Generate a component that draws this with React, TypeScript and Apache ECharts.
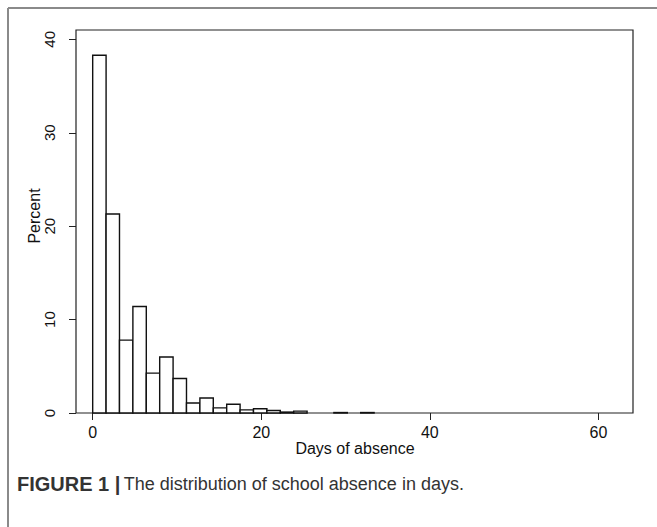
import React, { useEffect, useRef } from "react";
import * as echarts from "echarts";

// Histogram of days of absence: 39 bins from 0 to 62 days
const MAX_DAYS = 62;
const BIN_COUNT = 39;
const percent = [
  38.3, 21.3, 7.8, 11.4, 4.27, 6.0, 3.7, 1.07, 1.6, 0.55,
  0.93, 0.33, 0.46, 0.26, 0.1, 0.2, 0, 0, 0.05, 0,
  0.05, 0, 0, 0, 0, 0, 0, 0, 0, 0,
  0, 0, 0, 0, 0, 0, 0, 0, 0,
];
const xTicks = [0, 20, 40, 60];
const yTicks = [0, 10, 20, 30, 40];
const xTitle = "Days of absence";
const yTitle = "Percent";
const captionBold = "FIGURE 1 |";
const captionText = "The distribution of school absence in days.";

export default function App() {
  const ref = useRef<HTMLDivElement>(null);
  useEffect(() => {
    if (!ref.current) return;
    const chart = echarts.init(ref.current, undefined, { renderer: "svg" });
    const binWidth = MAX_DAYS / BIN_COUNT;
    const data = percent.map((p, i) => [i * binWidth, (i + 1) * binWidth, p]);
    const font = "'Liberation Sans', Arial, sans-serif";
    chart.setOption({
      animation: false,
      backgroundColor: "#fff",
      grid: {
        left: 76,
        top: 30,
        right: 24,
        bottom: 114,
        show: true,
        borderColor: "#222",
        borderWidth: 1.2,
        backgroundColor: "transparent",
      },
      xAxis: {
        type: "value",
        min: -1.98,
        max: 64.1,
        splitLine: { show: false },
        axisLine: { show: false, onZero: false },
        axisTick: {
          show: true,
          length: 7,
          customValues: xTicks,
          lineStyle: { color: "#222", width: 1 },
        },
        axisLabel: {
          customValues: xTicks,
          margin: 11,
          fontSize: 16,
          color: "#111",
          fontFamily: font,
        },
      },
      yAxis: {
        type: "value",
        min: 0,
        max: 41,
        splitLine: { show: false },
        axisLine: { show: false, onZero: false },
        axisTick: {
          show: true,
          length: 7,
          customValues: yTicks,
          lineStyle: { color: "#222", width: 1 },
        },
        axisLabel: {
          customValues: yTicks,
          rotate: 90,
          margin: 19,
          fontSize: 15,
          color: "#111",
          fontFamily: font,
        },
      },
      series: [
        {
          type: "custom",
          data,
          encode: { x: [0, 1], y: 2 },
          renderItem: (params: any, api: any) => {
            const x0 = api.value(0);
            const x1 = api.value(1);
            const h = api.value(2);
            if (!(h > 0)) return null;
            const p0 = api.coord([x0, 0]);
            const p1 = api.coord([x1, h]);
            return {
              type: "rect",
              shape: {
                x: p0[0],
                y: p1[1],
                width: p1[0] - p0[0],
                height: p0[1] - p1[1],
              },
              style: { fill: "#fff", stroke: "#111", lineWidth: 1.4 },
            };
          },
        },
      ],
      graphic: [
        {
          type: "line",
          shape: { x1: 8, y1: 8, x2: 657, y2: 8 },
          style: { stroke: "#8a8a8a", lineWidth: 2 },
        },
        {
          type: "line",
          shape: { x1: 8, y1: 8, x2: 8, y2: 527 },
          style: { stroke: "#8a8a8a", lineWidth: 2 },
        },
        {
          type: "text",
          x: 34,
          y: 216,
          rotation: Math.PI / 2,
          style: {
            text: yTitle,
            fontSize: 16,
            fontFamily: font,
            fill: "#111",
            align: "center",
            verticalAlign: "middle",
          },
        },
        {
          type: "text",
          x: 355,
          y: 448,
          style: {
            text: xTitle,
            fontSize: 16,
            fontFamily: font,
            fill: "#111",
            align: "center",
            verticalAlign: "middle",
          },
        },
        {
          type: "text",
          x: 17,
          y: 484,
          style: {
            rich: {
              b: { fontWeight: "bold", fontSize: 20, fontFamily: font, fill: "#333" },
              n: { fontSize: 18, fontFamily: font, fill: "#333" },
            },
            text: `{b|${captionBold}} {n|${captionText}}`,
            verticalAlign: "middle",
          },
        },
      ],
    });
    return () => chart.dispose();
  }, []);
  return (
    <div
      ref={ref}
      style={{ position: "fixed", left: 0, top: 0, width: 657, height: 527 }}
    />
  );
}
